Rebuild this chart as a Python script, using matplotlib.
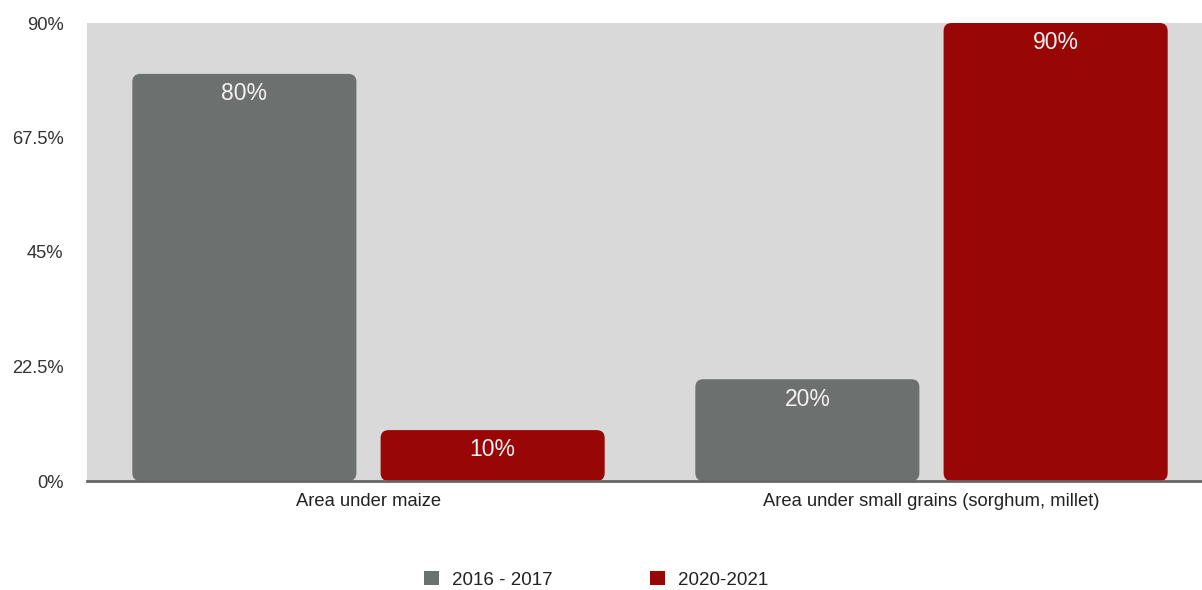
import numpy as np
import matplotlib.pyplot as plt
from matplotlib.patches import FancyBboxPatch, Patch

plt.rcParams['font.family'] = ['Liberation Sans', 'DejaVu Sans']

categories = ['Area under maize', 'Area under small grains (sorghum, millet)']
series_names = ['2016 - 2017', '2020-2021']
vals_2016 = [80, 20]
vals_2020 = [10, 90]
yticks = [0, 22.5, 45, 67.5, 90]
ytick_labels = ['0%', '22.5%', '45%', '67.5%', '90%']

colors = ['#6c716f', '#990606']

fig = plt.figure(figsize=(12.02, 5.9), dpi=100)
# axes runs a bit past the right edge, as in the source image
ax = fig.add_axes([87 / 1202, 109 / 590, 1126 / 1202, 458 / 590])
ax.set_facecolor('#d9d9d9')
ax.set_xlim(-0.5, 1.5)
ax.set_ylim(0, 90)

x = np.arange(len(categories))
bw = 0.398
gap = 0.043
# px -> data scale for rounded corners
px_x = 2.0 / 1126
px_y = 90.0 / 458
aspect = px_y / px_x

for i, (vals, c) in enumerate(zip([vals_2016, vals_2020], colors)):
    offs = (-1 if i == 0 else 1) * (bw + gap) / 2
    for xi, v in zip(x, vals):
        left = xi + offs - bw / 2
        p = FancyBboxPatch((left, 0), bw, v,
                           boxstyle='round,pad=0,rounding_size=%f' % (8 * px_x),
                           mutation_aspect=aspect, fc=c, ec='none', zorder=2)
        ax.add_patch(p)
        ax.text(xi + offs, v - 3.9, '%d%%' % v, ha='center', va='center',
                color='#f2f2f2', fontsize=16.5, zorder=3)

for s in ['top', 'right', 'left']:
    ax.spines[s].set_visible(False)
ax.spines['bottom'].set_color('#666666')
ax.spines['bottom'].set_linewidth(2)
ax.spines['bottom'].set_zorder(4)

ax.set_yticks(yticks)
ax.set_yticklabels(ytick_labels)
ax.set_xticks(x)
ax.set_xticklabels(categories)
ax.tick_params(axis='y', length=0, pad=17, labelsize=13.2, labelcolor='#333333')
ax.tick_params(axis='x', length=0, pad=9, labelsize=13.2, labelcolor='#222222')

handles = [Patch(fc=c, ec='none') for c in colors]
fig.legend(handles, series_names, loc='center', bbox_to_anchor=(0.496, 0.017),
           ncol=2, frameon=False, fontsize=13.5, handlelength=0.8, handleheight=0.8,
           handletextpad=0.7, columnspacing=5.2, labelcolor='#222222')

fig.savefig('out.png', dpi=100)
